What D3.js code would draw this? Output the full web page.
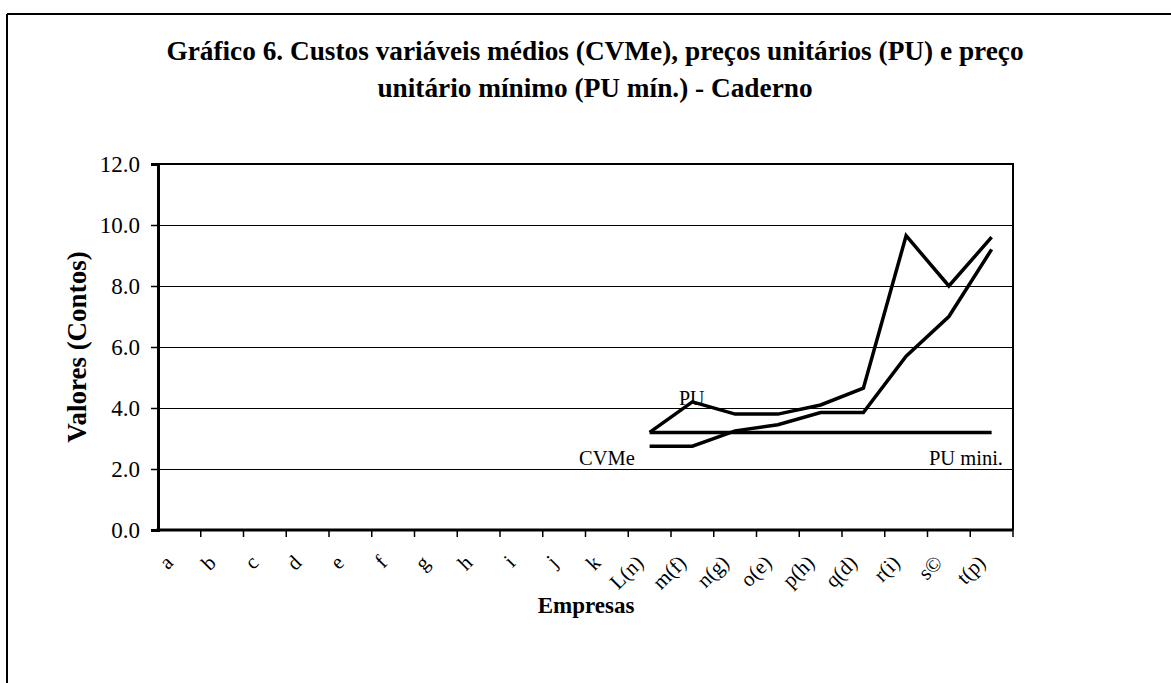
<!DOCTYPE html>
<html>
<head>
<meta charset="utf-8">
<script src="https://cdn.jsdelivr.net/npm/d3@7"></script>
<style>
  body { margin: 0; background: #fff; }
  svg { display: block; }
  text { font-family: "Liberation Serif", "Times New Roman", serif; fill: #000; }
</style>
</head>
<body>
<svg id="chart" width="1171" height="683"></svg>
<script>
// categories (companies) along the x axis
var categories = ["a", "b", "c", "d", "e", "f", "g", "h", "i", "j", "k",
  "L(n)", "m(f)", "n(g)", "o(e)", "p(h)", "q(d)", "r(i)", "s©", "t(p)"];

// series values, null where the company has no value
var puValues   = [null, null, null, null, null, null, null, null, null, null, null,
  3.2, 4.2, 3.8, 3.8, 4.1, 4.65, 9.65, 8.0, 9.6];
var cvmeValues = [null, null, null, null, null, null, null, null, null, null, null,
  2.75, 2.75, 3.25, 3.45, 3.85, 3.85, 5.7, 7.0, 9.2];
var puMinValues = [null, null, null, null, null, null, null, null, null, null, null,
  3.2, 3.2, 3.2, 3.2, 3.2, 3.2, 3.2, 3.2, 3.2];

var yTicks = [0, 2, 4, 6, 8, 10, 12];

var svg = d3.select("#chart");

// outer frame (only top and left edges show in the scan)
svg.append("line").attr("x1", 7).attr("y1", 14).attr("x2", 1171).attr("y2", 14)
  .attr("stroke", "#000").attr("stroke-width", 2);
svg.append("line").attr("x1", 7).attr("y1", 14).attr("x2", 7).attr("y2", 683)
  .attr("stroke", "#000").attr("stroke-width", 2);

var plotLeft = 158, plotRight = 1013, plotTop = 164, plotBottom = 530;

var x = d3.scaleBand().domain(categories).range([plotLeft, plotRight]).paddingInner(0).paddingOuter(0);
var y = d3.scaleLinear().domain([0, 12]).range([plotBottom, plotTop]);
var cx = d => x(d) + x.bandwidth() / 2;

// title
var title = svg.append("text")
  .attr("text-anchor", "middle")
  .style("font-weight", "bold")
  .style("font-size", "27.3px");
title.append("tspan").attr("x", 595).attr("y", 60)
  .text("Gráfico 6. Custos variáveis médios (CVMe), preços unitários (PU) e preço");
title.append("tspan").attr("x", 595).attr("y", 97)
  .text("unitário mínimo (PU mín.) - Caderno");

// gridlines
svg.append("g").selectAll("line")
  .data(yTicks.filter(d => d > 0 && d < 12))
  .join("line")
  .attr("x1", plotLeft).attr("x2", plotRight)
  .attr("y1", d => Math.round(y(d)) + 0.5).attr("y2", d => Math.round(y(d)) + 0.5)
  .attr("stroke", "#000").attr("stroke-width", 1.5)
  .attr("shape-rendering", "crispEdges");

// plot area border (top and right)
svg.append("path")
  .attr("d", `M${plotLeft},${plotTop}H${plotRight}V${plotBottom}`)
  .attr("fill", "none").attr("stroke", "#000").attr("stroke-width", 2)
  .attr("shape-rendering", "crispEdges");

// y axis
var yAxis = svg.append("g")
  .attr("transform", `translate(${plotLeft},0)`)
  .call(d3.axisLeft(y).tickValues(yTicks).tickFormat(d3.format(".1f")).tickSize(7).tickPadding(11));
yAxis.select(".domain").attr("stroke-width", 3);
yAxis.selectAll(".tick line").attr("stroke-width", 1.5);
yAxis.selectAll(".tick text")
  .style("font-family", "Liberation Serif, serif")
  .style("font-size", "23px");

// x axis: ticks at category boundaries, labels rotated
var xAxis = svg.append("g").attr("transform", `translate(0,${plotBottom})`);
xAxis.append("line").attr("x1", plotLeft - 1.5).attr("x2", plotRight)
  .attr("stroke", "#000").attr("stroke-width", 3);
xAxis.selectAll(".xtick")
  .data(categories)
  .join("line")
  .attr("class", "xtick")
  .attr("x1", d => x(d) + x.bandwidth()).attr("x2", d => x(d) + x.bandwidth())
  .attr("y1", 0).attr("y2", 7)
  .attr("stroke", "#000").attr("stroke-width", 1.5);
xAxis.selectAll(".xlab")
  .data(categories)
  .join("text")
  .attr("class", "xlab")
  .attr("text-anchor", "end")
  .attr("transform", d => `translate(${cx(d) - 5},${34}) rotate(-45)`)
  .style("font-size", "21px")
  .text(d => d);

// axis titles
svg.append("text")
  .attr("transform", "translate(86,347) rotate(-90)")
  .attr("text-anchor", "middle")
  .style("font-weight", "bold")
  .style("font-size", "27px")
  .text("Valores (Contos)");
svg.append("text")
  .attr("x", 586).attr("y", 613)
  .attr("text-anchor", "middle")
  .style("font-weight", "bold")
  .style("font-size", "23px")
  .text("Empresas");

// series lines
var line = d3.line()
  .defined(d => d[1] != null)
  .x(d => cx(d[0]))
  .y(d => y(d[1]));

[puMinValues, cvmeValues, puValues].forEach(function(vals) {
  svg.append("path")
    .datum(categories.map((c, i) => [c, vals[i]]))
    .attr("d", line)
    .attr("fill", "none")
    .attr("stroke", "#000")
    .attr("stroke-width", 3.5)
    .attr("stroke-linejoin", "miter");
});

// series labels
svg.append("text").attr("x", 679).attr("y", 405).style("font-size", "20px").text("PU");
svg.append("text").attr("x", 579).attr("y", 465).style("font-size", "20.5px").text("CVMe");
svg.append("text").attr("x", 1003).attr("y", 465).attr("text-anchor", "end")
  .style("font-size", "20.5px").text("PU mini.");
</script>
</body>
</html>
